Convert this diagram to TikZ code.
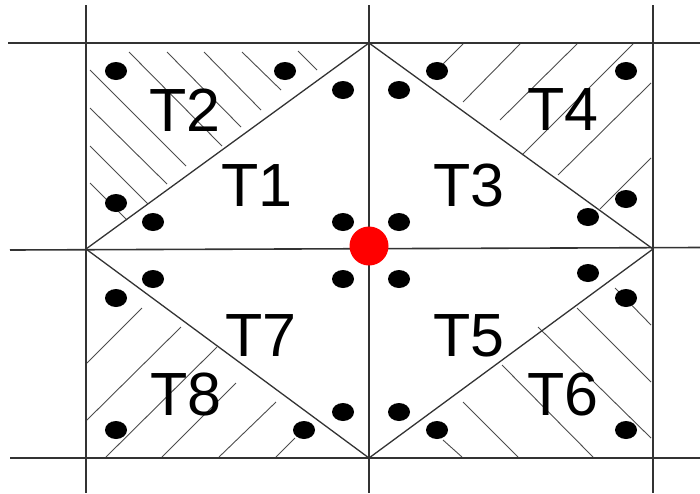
\documentclass[tikz,border=0pt]{standalone}
\usepackage{fontspec}
\setmainfont{Liberation Sans}
\begin{document}
\begin{tikzpicture}[x=1pt,y=-1pt,
  gridline/.style={draw=black!80,line width=1.6pt},
  diagline/.style={draw=black!80,line width=1.3pt},
  hatchline/.style={draw=black!70,line width=0.9pt},
  pt/.style={fill=black,draw=none},
  lbl/.style={font=\fontsize{61}{61}\selectfont,inner sep=0pt,text=black}]
\useasboundingbox (0,0) rectangle (700,493);
% grid corners
\coordinate (A1) at (86,43);  \coordinate (A2) at (369,43);  \coordinate (A3) at (653,43);
\coordinate (B1) at (86,249); \coordinate (B2) at (369,249); \coordinate (B3) at (653,249);
\coordinate (C1) at (86,458); \coordinate (C2) at (369,458); \coordinate (C3) at (653,458);
% hatching T2
\foreach \a/\b/\c/\d in {298/51/317/70, 242/52/281/90, 204/52/261/110, 167/52/241/127,
  129/52/222/146, 90/70/186/166, 90/108/167/184, 90/146/148/204, 90/183/127/220}
  \draw[hatchline] (\a,\b) -- (\c,\d);
% hatching T4
\foreach \a/\b/\c/\d in {463/44/443/64, 520/44/463/102, 577/44/500/120, 633/44/522/155,
  651/83/558/175, 651/158/600/209}
  \draw[hatchline] (\a,\b) -- (\c,\d);
% hatching T8
\foreach \a/\b/\c/\d in {87/363/142/308, 87/420/181/327, 106/457/217/347, 162/457/236/383,
  219/457/276/402, 276/457/295/438}
  \draw[hatchline] (\a,\b) -- (\c,\d);
% hatching T6
\foreach \a/\b/\c/\d in {443/440/462/457, 463/402/518/457, 502/365/593/457, 538/327/651/438,
  577/308/651/382, 615/288/651/325}
  \draw[hatchline] (\a,\b) -- (\c,\d);
% grid
\coordinate (h1s) at (8,43);   \coordinate (h1e) at (700,43);
\coordinate (h2s) at (10,250); \coordinate (h2e) at (700,247.5);
\coordinate (h3s) at (10,458); \coordinate (h3e) at (700,458);
\coordinate (v1s) at (86,5);   \coordinate (v1e) at (86,493);
\coordinate (v2s) at (369,5);  \coordinate (v2e) at (369,493);
\coordinate (v3s) at (653,5);  \coordinate (v3e) at (653,493);
\draw[gridline] (h1s) -- (h1e);
\draw[gridline] (h2s) -- (h2e);
\draw[gridline] (h3s) -- (h3e);
\draw[gridline] (v1s) -- (v1e);
\draw[gridline] (v2s) -- (v2e);
\draw[gridline] (v3s) -- (v3e);
% diagonals
\draw[diagline] (B1) -- (A2) -- (B3) -- (C2) -- cycle;
% black dots
\foreach \x/\y in {116/71, 285/71, 116/203, 343/90, 153/222, 343/222,
  399/90, 399/222, 588/217, 437/71, 626/71, 626/199,
  116/298, 153/279, 343/279, 343/412, 304/430, 116/430,
  399/279, 588/273, 626/298, 399/412, 437/430, 626/430}
  \fill[pt] (\x,\y) ellipse [x radius=11, y radius=9];
% red dot
\node[circle,fill=red,draw=none,minimum size=39pt,inner sep=0pt] (P) at (369,246) {};
% labels
\node[lbl] (t2) at (185,110) {T2};
\node[lbl] (t1) at (257,186) {T1};
\node[lbl] (t3) at (469,185) {T3};
\node[lbl] (t4) at (563,110) {T4};
\node[lbl] (t7) at (261,336) {T7};
\node[lbl] (t8) at (186,394) {T8};
\node[lbl] (t5) at (469,336) {T5};
\node[lbl] (t6) at (563,394) {T6};
\end{tikzpicture}
\end{document}
